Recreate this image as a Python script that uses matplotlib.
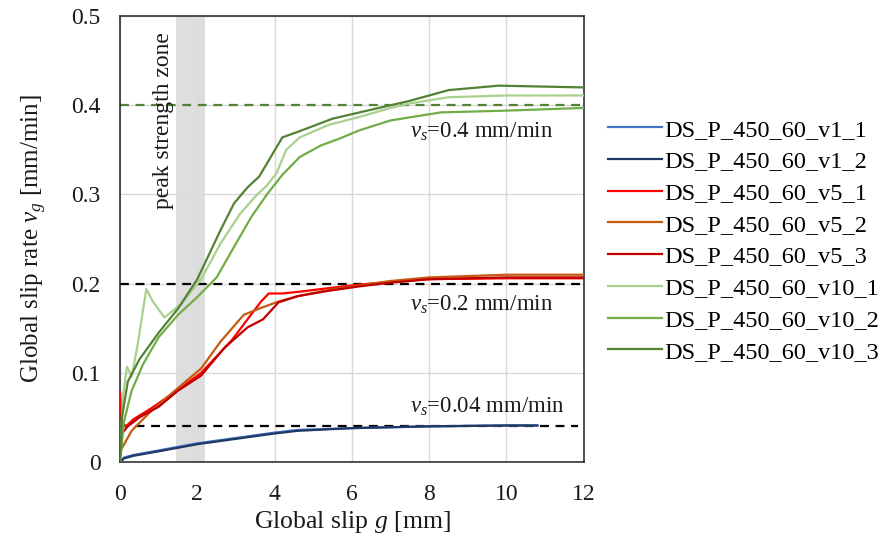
import numpy as np
import matplotlib.pyplot as plt

plt.rcParams["font.family"] = ["Liberation Serif", "DejaVu Serif"]
plt.rcParams["mathtext.fontset"] = "custom"
plt.rcParams["mathtext.rm"] = "Liberation Serif"
plt.rcParams["mathtext.it"] = "Liberation Serif:italic"

# global slip g [mm] and global slip rate v_g [mm/min] per specimen
g_v1_1 = [0.0, 0.1, 0.35, 1.0, 2.0, 3.0, 4.0, 4.6, 6.0, 8.0, 10.0, 10.8]
v_v1_1 = [0.0, 0.005, 0.008, 0.013, 0.021, 0.027, 0.033, 0.036, 0.038, 0.040, 0.041, 0.041]
g_v1_2 = [0.0, 0.1, 0.35, 1.0, 2.0, 3.0, 4.0, 4.6, 6.0, 8.0, 10.0, 10.8]
v_v1_2 = [0.0, 0.004, 0.007, 0.012, 0.020, 0.026, 0.032, 0.035, 0.038, 0.040, 0.041, 0.041]

g_v5_1 = [0.0, 0.05, 0.15, 0.35, 0.8, 1.5, 2.1, 2.9, 3.35, 3.65, 3.85, 4.2, 4.65, 5.4, 6.2, 7.0, 8.0, 10.0, 12.0]
v_v5_1 = [0.078, 0.045, 0.040, 0.048, 0.060, 0.081, 0.100, 0.137, 0.163, 0.180, 0.189, 0.189, 0.191, 0.195, 0.199, 0.202, 0.205, 0.206, 0.206]
g_v5_2 = [0.0, 0.08, 0.3, 0.8, 1.5, 2.1, 2.6, 3.2, 3.6, 4.1, 4.6, 5.4, 6.2, 7.0, 8.0, 10.0, 12.0]
v_v5_2 = [0.012, 0.018, 0.035, 0.057, 0.083, 0.105, 0.135, 0.165, 0.172, 0.180, 0.186, 0.193, 0.198, 0.203, 0.207, 0.210, 0.210]
g_v5_3 = [0.0, 0.05, 0.2, 0.5, 1.0, 1.5, 2.1, 2.7, 3.3, 3.7, 4.1, 4.6, 5.4, 6.2, 7.0, 8.0, 10.0, 12.0]
v_v5_3 = [0.022, 0.032, 0.040, 0.050, 0.062, 0.080, 0.097, 0.128, 0.151, 0.160, 0.179, 0.186, 0.192, 0.197, 0.201, 0.205, 0.207, 0.207]

g_v10_1 = [0.0, 0.08, 0.18, 0.3, 0.45, 0.68, 0.85, 1.15, 1.6, 2.1, 2.6, 3.1, 3.55, 3.8, 4.05, 4.3, 4.65, 5.4, 6.2, 7.0, 7.5, 8.5, 10.0, 12.0]
v_v10_1 = [0.0, 0.075, 0.107, 0.096, 0.130, 0.194, 0.180, 0.162, 0.178, 0.205, 0.245, 0.278, 0.300, 0.310, 0.324, 0.350, 0.364, 0.378, 0.387, 0.397, 0.402, 0.409, 0.411, 0.411]
g_v10_2 = [0.0, 0.1, 0.3, 0.6, 1.0, 1.5, 2.0, 2.5, 3.0, 3.4, 3.8, 4.2, 4.65, 5.2, 5.7, 6.2, 7.0, 8.3, 10.0, 12.0]
v_v10_2 = [0.0, 0.045, 0.080, 0.110, 0.140, 0.165, 0.185, 0.207, 0.245, 0.275, 0.300, 0.322, 0.342, 0.355, 0.363, 0.372, 0.383, 0.392, 0.394, 0.397]
g_v10_3 = [0.0, 0.05, 0.2, 0.5, 1.0, 1.5, 2.0, 2.6, 2.95, 3.3, 3.6, 3.9, 4.2, 4.65, 5.5, 6.2, 7.5, 8.5, 9.8, 12.0]
v_v10_3 = [0.0, 0.050, 0.090, 0.115, 0.145, 0.172, 0.205, 0.260, 0.290, 0.308, 0.320, 0.342, 0.364, 0.371, 0.385, 0.392, 0.405, 0.417, 0.422, 0.420]

labels = ["DS_P_450_60_v1_1", "DS_P_450_60_v1_2", "DS_P_450_60_v5_1",
          "DS_P_450_60_v5_2", "DS_P_450_60_v5_3", "DS_P_450_60_v10_1",
          "DS_P_450_60_v10_2", "DS_P_450_60_v10_3"]
colors = ["#4472C4", "#203864", "#FF0000", "#C55A11", "#C00000",
          "#A9D18E", "#70AD47", "#548235"]
series = [(g_v1_1, v_v1_1), (g_v1_2, v_v1_2), (g_v5_1, v_v5_1), (g_v5_2, v_v5_2),
          (g_v5_3, v_v5_3), (g_v10_1, v_v10_1), (g_v10_2, v_v10_2), (g_v10_3, v_v10_3)]

# imposed slip rates and peak strength zone
vs_levels = [0.04, 0.2, 0.4]
vs_text = ["0.04", "0.2", "0.4"]
vs_text_y = [0.062, 0.176, 0.370]
peak_zone = (1.45, 2.2)

fig = plt.figure(figsize=(8.8, 5.36), dpi=100)
ax = fig.add_axes([0.1364, 0.138, 0.527, 0.832])

ax.axvspan(*peak_zone, color="#DEDEDE", lw=0, zorder=0)
ax.text(1.12, 0.482, "peak strength zone", rotation=90, ha="center", va="top",
        fontsize=17, color="#1a1a1a")

for (g, v), lab, c in zip(series, labels, colors):
    ax.plot(g, v, color=c, lw=1.6, label=lab, zorder=3)

ax.axhline(vs_levels[0], xmax=11.85 / 12, color="black", ls=(0, (4, 3)), lw=1.6, zorder=2)
ax.axhline(vs_levels[1], color="black", ls=(0, (4, 3)), lw=1.6, zorder=2)
ax.axhline(vs_levels[2], color="#548235", ls=(0, (4, 3)), lw=1.6, zorder=2)

for y, t in zip(vs_text_y, vs_text):
    ax.text(7.5, y, r"$\it{v_s}$=" + t + " mm/min", fontsize=16.5,
            va="center", ha="left", color="#1a1a1a")

ax.set_xlim(0, 12)
ax.set_ylim(0, 0.5)
ax.set_xticks(np.arange(0, 13, 2))
ax.set_yticks(np.arange(0, 0.51, 0.1))
ax.set_yticklabels(["0", "0.1", "0.2", "0.3", "0.4", "0.5"])
ax.tick_params(axis="both", length=0, labelsize=17, colors="#1a1a1a")
ax.tick_params(axis="x", pad=16)
ax.tick_params(axis="y", pad=14)
ax.grid(True, color="#D9D9D9", lw=1)
ax.set_axisbelow(True)
for s in ax.spines.values():
    s.set_color("#222222")
    s.set_linewidth(1.1)

ax.set_xlabel(r"Global slip $g$ [mm]", fontsize=18.5, labelpad=3, color="#1a1a1a")
ax.set_ylabel(r"Global slip rate $v_g$ [mm/min]", fontsize=18, labelpad=16, color="#1a1a1a")

ax.legend(loc="center left", bbox_to_anchor=(0.691, 0.551), bbox_transform=fig.transFigure,
          frameon=False, fontsize=17.5, handlelength=2.2, handletextpad=0.1,
          labelspacing=0.4, borderpad=0, borderaxespad=0)

fig.savefig("out.png", dpi=100)
